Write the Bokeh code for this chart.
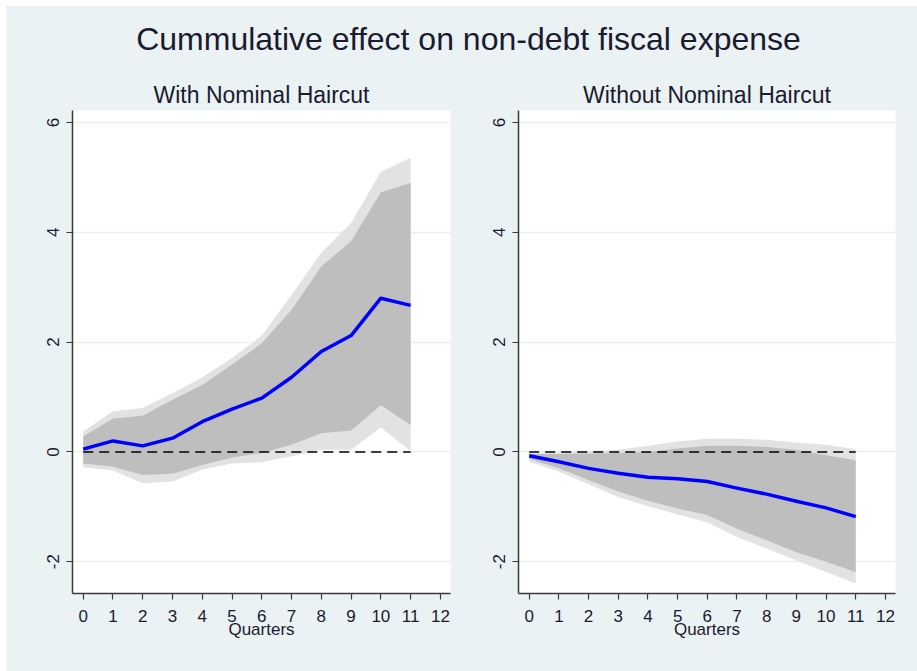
from bokeh.plotting import figure
from bokeh.layouts import column, row
from bokeh.models import Range1d, FixedTicker, PrintfTickFormatter
from bokeh.core.properties import value
from bokeh.embed import file_html
from bokeh.resources import INLINE

# ---- data -------------------------------------------------------------
quarters = [0, 1, 2, 3, 4, 5, 6, 7, 8, 9, 10, 11]
zero_line = [0, 0, 0, 0, 0, 0, 0, 0, 0, 0, 0, 0]
x_ticks = [0, 1, 2, 3, 4, 5, 6, 7, 8, 9, 10, 11, 12]
y_ticks = [-2, 0, 2, 4, 6]

# With nominal haircut
with_irf = [0.05, 0.20, 0.11, 0.25, 0.55, 0.78, 0.98, 1.36, 1.83, 2.12, 2.80, 2.67]
with_in_hi = [0.28, 0.61, 0.66, 0.95, 1.22, 1.59, 1.98, 2.59, 3.38, 3.84, 4.73, 4.90]
with_in_lo = [-0.21, -0.27, -0.42, -0.40, -0.24, -0.10, -0.02, 0.13, 0.34, 0.39, 0.85, 0.49]
with_out_hi = [0.37, 0.74, 0.80, 1.07, 1.36, 1.71, 2.12, 2.86, 3.63, 4.17, 5.10, 5.36]
with_out_lo = [-0.28, -0.34, -0.57, -0.54, -0.32, -0.21, -0.19, -0.08, 0.04, 0.04, 0.45, 0.01]

# Without nominal haircut
without_irf = [-0.07, -0.18, -0.30, -0.39, -0.46, -0.49, -0.54, -0.66, -0.77, -0.90, -1.02, -1.18]
without_in_hi = [-0.04, -0.04, -0.03, -0.02, 0.00, 0.06, 0.11, 0.11, 0.09, 0.04, -0.06, -0.15]
without_in_lo = [-0.13, -0.30, -0.51, -0.72, -0.89, -1.03, -1.15, -1.40, -1.61, -1.83, -2.00, -2.19]
without_out_hi = [-0.02, -0.01, 0.01, 0.04, 0.11, 0.19, 0.24, 0.24, 0.22, 0.17, 0.13, 0.05]
without_out_lo = [-0.18, -0.36, -0.59, -0.82, -0.99, -1.14, -1.28, -1.55, -1.76, -1.98, -2.19, -2.40]

MAIN_TITLE = "Cummulative effect on non-debt fiscal expense"
X_LABEL = "Quarters"

# ---- style ------------------------------------------------------------
BG = "#EAF2F3"
GRID = "#E6EFF1"
OUTER = "#E2E2E2"
INNER = "#BEBEBE"
LINE = "#0000FF"
TEXT = "#1B1B2F"
AXIS = "#3A3A3A"
FONT = "Liberation Sans"


def panel(title, irf, in_hi, in_lo, out_hi, out_lo, frame_w, left, right):
    p = figure(
        output_backend="svg", toolbar_location=None,
        frame_width=frame_w, frame_height=483,
        min_border_left=left, min_border_right=right,
        min_border_top=40, min_border_bottom=78,
        x_range=Range1d(-0.36, 12.34), y_range=Range1d(-2.58, 6.22),
        background_fill_color="white", border_fill_color=BG,
        outline_line_color=None, title=title,
        styles={"background-color": BG},
    )
    p.title.align = "center"
    p.title.text_font = FONT
    p.title.text_font_size = "23px"
    p.title.text_font_style = "normal"
    p.title.text_color = TEXT
    p.title.standoff = 5

    p.varea(x=quarters, y1=out_lo, y2=out_hi, fill_color=OUTER)
    p.varea(x=quarters, y1=in_lo, y2=in_hi, fill_color=INNER)
    p.line(x=quarters, y=zero_line, line_color="black", line_width=1.5,
           line_dash="10 6")
    p.line(x=quarters, y=irf, line_color=LINE, line_width=3.5,
           line_join="round")

    p.xgrid.grid_line_color = None
    p.ygrid.grid_line_color = GRID
    p.ygrid.grid_line_width = 1.5

    p.xaxis.ticker = FixedTicker(ticks=x_ticks)
    p.yaxis.ticker = FixedTicker(ticks=y_ticks)
    p.yaxis.formatter = PrintfTickFormatter(format="%d")
    p.xaxis.formatter = PrintfTickFormatter(format="%d")
    for ax in (p.xaxis, p.yaxis):
        ax.axis_line_color = AXIS
        ax.axis_line_width = 1.5
        ax.major_tick_line_color = AXIS
        ax.major_tick_line_width = 1.2
        ax.major_tick_out = 6
        ax.major_tick_in = 0
        ax.minor_tick_line_color = None
        ax.major_label_text_font = FONT
        ax.major_label_text_font_size = "17px"
        ax.major_label_text_color = TEXT
    p.yaxis.major_label_orientation = "vertical"
    p.yaxis.major_label_standoff = 7
    p.xaxis.major_label_standoff = 10
    p.xaxis.axis_label = X_LABEL
    p.xaxis.axis_label_text_font = FONT
    p.xaxis.axis_label_text_font_size = "17px"
    p.xaxis.axis_label_text_font_style = "normal"
    p.xaxis.axis_label_text_color = TEXT
    p.xaxis.axis_label_standoff = -5
    return p


left = panel("With Nominal Haircut", with_irf, with_in_hi, with_in_lo,
             with_out_hi, with_out_lo, 378, 66, 10)
right = panel("Without Nominal Haircut", without_irf, without_in_hi, without_in_lo,
              without_out_hi, without_out_lo, 377, 58, 22)

# header strip carrying the overall title
header = figure(
    output_backend="svg", toolbar_location=None,
    width=911, height=64, min_border=0,
    x_range=Range1d(0, 911), y_range=Range1d(0, 64),
    background_fill_color=BG, border_fill_color=BG,
    outline_line_color=None, styles={"background-color": BG},
)
header.axis.visible = False
header.grid.grid_line_color = None
header.text(x=[462], y=[32], text=[MAIN_TITLE], text_align="center",
            text_baseline="alphabetic", text_font=value(FONT),
            text_font_size="32px", text_color=TEXT)

layout = column(header, row(left, right, spacing=0,
                            styles={"background-color": BG}),
                spacing=0, margin=(6, 0, 0, 6),
                styles={"background-color": BG})

open("out.html", "w").write(file_html(layout, INLINE))
